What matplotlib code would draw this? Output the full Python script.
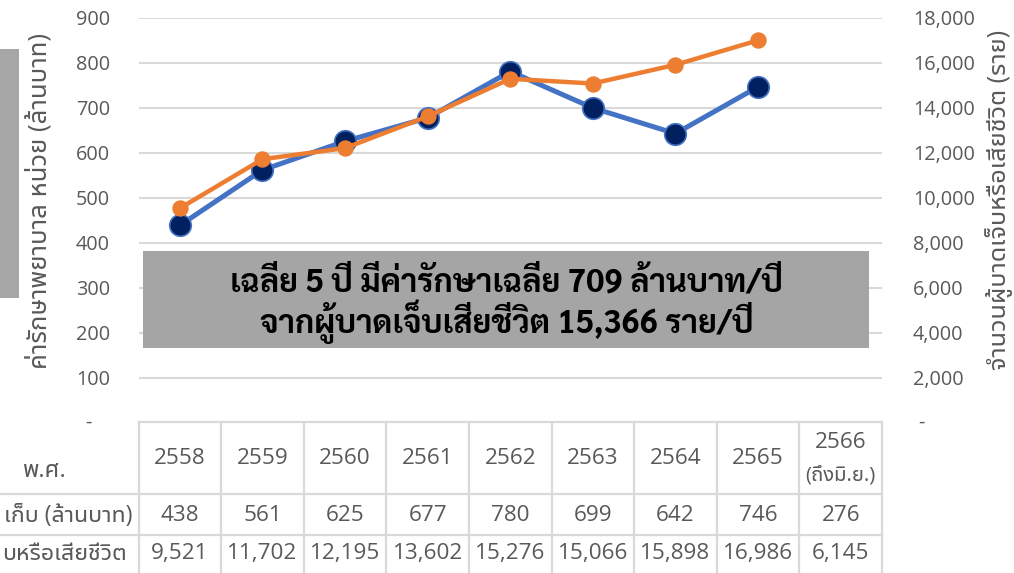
import matplotlib
matplotlib.use("Agg")
import matplotlib.pyplot as plt
from matplotlib.patches import Rectangle
from matplotlib.lines import Line2D
import matplotlib.transforms as mtransforms

# ---------------- data ----------------
years = ["2558", "2559", "2560", "2561", "2562", "2563", "2564", "2565", "2566\n(ถึงมิ.ย.)"]
cost_mb = [438, 561, 625, 677, 780, 699, 642, 746, 276]
injured = [9521, 11702, 12195, 13602, 15276, 15066, 15898, 16986, 6145]
cost_labels = ["438", "561", "625", "677", "780", "699", "642", "746", "276"]
injured_labels = ["9,521", "11,702", "12,195", "13,602", "15,276", "15,066", "15,898", "16,986", "6,145"]
n_plotted = 8  # partial year not plotted
left_ticks = [0, 100, 200, 300, 400, 500, 600, 700, 800, 900]
right_ticks = [0, 2000, 4000, 6000, 8000, 10000, 12000, 14000, 16000, 18000]
# row labels as visible in the (cropped) reference
row_labels = ["พ.ศ.", "เก็บ (ล้านบาท)", "บหรือเสียชีวิต"]
left_title = "ค่ารักษาพยาบาล หน่วย (ล้านบาท)"
right_title = "จำนวนผู้บาดเจ็บหรือเสียชีวิต (ราย)"
note_lines = ["เฉลี่ย 5 ปี มีค่ารักษาเฉลี่ย 709 ล้านบาท/ปี", "จากผู้บาดเจ็บเสียชีวิต 15,366 ราย/ปี"]

plt.rcParams['font.family'] = ['Open Sans', 'Noto Sans Thai UI', 'DejaVu Sans']
GRAY = "#595959"
GRID = "#d9d9d9"
W, H = 1014, 573
fig = plt.figure(figsize=(W / 100, H / 100), dpi=100)

def fx(px):
    return px / W

def fy(py):
    return 1 - py / H

ax_l, ax_r = 138.5, 882.0
ax_t, ax_b = 17.5, 422.5
ax = fig.add_axes([fx(ax_l), fy(ax_b), fx(ax_r - ax_l), (ax_b - ax_t) / H])
ax2 = ax.twinx()
for a in (ax, ax2):
    for s in a.spines.values():
        s.set_visible(False)
    a.patch.set_visible(False)

xs = list(range(len(years)))
ax.set_xlim(-0.5, len(years) - 0.5)
ax.set_ylim(0, 900)
ax2.set_ylim(0, 18000)
ax.set_xticks([])

# grid
for v in left_ticks[1:]:
    ax.axhline(v, color=GRID, lw=1.5, zorder=0)

ax.set_yticks(left_ticks)
ax.set_yticklabels([""] + [str(v) for v in left_ticks[1:]])
ax2.set_yticks(right_ticks)
ax2.set_yticklabels([""] + [f"{v:,}" for v in right_ticks[1:]])
ax.tick_params(axis='y', length=0, pad=20.5, labelsize=14.3, labelcolor=GRAY)
ax2.tick_params(axis='y', length=0, pad=22.3, labelsize=14.3, labelcolor=GRAY)
# zero labels "-"
ax.annotate("-", xy=(0, 0), xycoords=('axes fraction', 'data'), xytext=(-50.5 * 0.72, 0),
            textcoords='offset points', ha='center', va='center', fontsize=14.3, color=GRAY)
ax2.annotate("-", xy=(1, 0), xycoords=('axes fraction', 'data'), xytext=(39 * 0.72, 0),
             textcoords='offset points', ha='center', va='center', fontsize=14.3, color=GRAY,
             annotation_clip=False)

# lines
ax.plot(xs[:n_plotted], cost_mb[:n_plotted], color="#4472C4", lw=3.6, marker='o', ms=15.5,
        mfc="#002060", mec="#4472C4", mew=1.2, zorder=3, solid_joinstyle='round')
ax2.plot(xs[:n_plotted], injured[:n_plotted], color="#ED7D31", lw=3.2, marker='o', ms=10.8,
         mfc="#ED7D31", mec="#ED7D31", zorder=4, solid_joinstyle='round')
ax2.set_zorder(ax.get_zorder() + 1)

# table
tr = mtransforms.blended_transform_factory(ax.transData, fig.transFigure)
top_y, r1, r2, bot = 421.7, 494.0, 535.0, 600.0
for i in range(len(years) + 1):
    fig.add_artist(Line2D([i - 0.5, i - 0.5], [fy(top_y), fy(bot)], transform=tr, color=GRID, lw=1.6))
fig.add_artist(Line2D([-0.5, len(years) - 0.5], [fy(top_y), fy(top_y)], transform=tr, color=GRID, lw=1.6))
for yy in (r1, r2):
    fig.add_artist(Line2D([0, fx(ax_r)], [fy(yy), fy(yy)], transform=fig.transFigure, color=GRID, lw=1.6))

tsz = 16.2
for i, lab in enumerate(years):
    if "\n" in lab:
        a, b = lab.split("\n")
        fig.text(i, fy(443), a, transform=tr, ha='center', va='center', fontsize=tsz, color=GRAY)
        fig.text(i, fy(475), b, transform=tr, ha='center', va='center', fontsize=tsz * 0.9, color=GRAY)
    else:
        fig.text(i, fy(459), lab, transform=tr, ha='center', va='center', fontsize=tsz, color=GRAY)
    fig.text(i, fy(515.5), cost_labels[i], transform=tr, ha='center', va='center', fontsize=tsz, color=GRAY)
    fig.text(i, fy(554), injured_labels[i], transform=tr, ha='center', va='center', fontsize=tsz, color=GRAY)

renderer = fig.canvas.get_renderer()

def fit(t, target, horizontal=True):
    bb = t.get_window_extent(renderer)
    cur = bb.width if horizontal else bb.height
    t.set_fontsize(t.get_fontsize() * target / cur)

fig.text(fx(22), fy(471), row_labels[0], ha='left', va='center', fontsize=17, color=GRAY)
rl1 = fig.text(fx(133), fy(515.5), row_labels[1], ha='right', va='center', fontsize=tsz, color=GRAY)
fit(rl1, 129)
fig.text(fx(127), fy(554), row_labels[2], ha='right', va='center', fontsize=rl1.get_fontsize(), color=GRAY)

# left gray strip
fig.add_artist(Rectangle((0, fy(298)), fx(19), (298 - 49) / H, transform=fig.transFigure,
                         facecolor="#a6a6a6", edgecolor='none'))

# axis titles
tl = fig.text(fx(39), fy(201), left_title, rotation=90, ha='center', va='center',
              fontsize=14, color=GRAY)
fit(tl, 336, horizontal=False)
trr = fig.text(fx(999), fy(200), right_title, rotation=90, ha='center', va='center',
               fontsize=14, color=GRAY)
fit(trr, 342, horizontal=False)

# note box
fig.add_artist(Rectangle((fx(142.7), fy(348.3)), fx(869 - 142.7), (348.3 - 251) / H,
                         transform=fig.transFigure, facecolor="#a5a5a5", edgecolor='none', zorder=5))
n1 = fig.text(fx(506), fy(283), note_lines[0], ha='center', va='center', fontsize=20,
              fontweight='bold', family=['Sarabun', 'Noto Sans Thai'], color='black', zorder=6)
fit(n1, 553)
n2 = fig.text(fx(507), fy(322), note_lines[1], ha='center', va='center', fontsize=20,
              fontweight='bold', family=['Sarabun', 'Noto Sans Thai'], color='black', zorder=6)
n2.set_fontsize(n1.get_fontsize())

fig.savefig("out.png", dpi=100)
